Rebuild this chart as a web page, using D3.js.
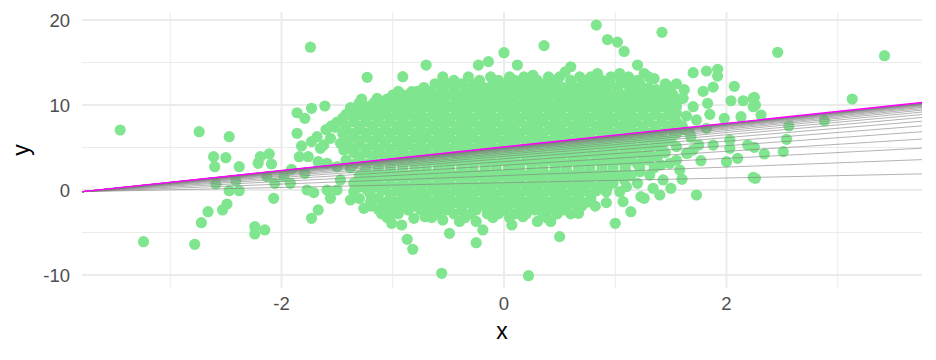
<!DOCTYPE html>
<html><head><meta charset="utf-8">
<script src="https://cdn.jsdelivr.net/npm/d3@7"></script>
<style>body{margin:0;background:#fff}svg{display:block}</style>
</head><body>
<svg id="c" width="936" height="360"></svg>
<script>
// ---------- axes ----------
const xTicks = [-2, 0, 2];
const xMinor = [-3, -1, 1, 3];
const yTicks = [-10, 0, 10, 20];
const yMinor = [-5, 5, 15];

// ---------- fitted lines (intercept, slope) ----------
const lineIntercepts = [0.854,1.695,2.370,2.912,3.344,3.689,3.965,4.185,4.359,4.503,4.617,4.704,4.780,4.837,4.882,4.920,4.951,4.973,4.992,5.007,5.019,5.030,5.038,5.042,5.049];
const lineSlopes     = [0.278,0.500,0.678,0.821,0.935,1.026,1.099,1.157,1.203,1.241,1.271,1.294,1.314,1.329,1.341,1.351,1.359,1.365,1.370,1.374,1.377,1.380,1.382,1.383,1.385];
const finalIntercept = 5.07;
const finalSlope = 1.39;

// ---------- scattered points (x, y) ----------
const scatterPts = [
[-3.45,7.06],[-3.24,-6.08],[-2.74,6.86],[-2.78,-6.39],[-2.47,6.27],[-2.61,3.92],[-2.60,2.74],[-2.50,3.80],[-2.38,2.74],[-2.59,0.71],[-2.41,1.09],[-2.47,-0.08],[-2.38,-0.08],[-2.49,-1.65],[-2.53,-2.35],[-2.66,-2.55],[-2.72,-3.85],
[-2.24,-4.31],[-2.24,-5.18],[-2.15,-4.7],
[-1.74,16.8],[-1.23,13.26],[-0.91,13.33],[-0.83,11.57],[-1.14,10.78],[-1.20,9.88],[-1.38,9.68],[-2.19,3.92],[-2.11,4.24],[-2.09,3.06],[-2.21,3.14],[-0.87,-5.8],[-0.82,-6.98],[-1.38,-1.18],[-1.26,-2.16],[-1.13,-2.27],[-1.02,-2.94],[-0.92,-4.12],[-1.01,-3.92],[-0.81,-3.33],[-1.35,-0.2],[-1.23,0],[-1.2,1.18],[-0.84,-0.79],
[-1.86,9.09],[-1.79,8.43],[-1.73,9.61],[-1.61,9.88],[-1.86,6.67],[-1.68,6.27],[-1.82,5.18],[-1.73,5.69],[-1.65,4.9],[-1.52,7.37],[-1.56,6.08],[-1.47,5.49],[-1.44,4.71],[-1.84,3.92],[-1.67,3.33],[-1.76,3.92],[-1.59,3.14],[-1.50,2.74],[-1.91,2.43],[-1.79,1.96],[-1.98,1.57],[-2.13,1.57],[-2.06,0.79],[-1.92,0.79],[-1.77,0],[-1.71,-0.31],[-1.59,0],[-1.56,-0.98],[-1.67,-2.35],[-1.73,-3.33],[-2.07,-0.98],[-1.47,1.18],[-1.50,0],
[-0.70,14.7],[-0.23,14.7],[-0.14,15.1],[0.0,16.15],[0.36,16.98],[0.12,14.7],[0.26,13.5],[0.6,14.5],[0.55,13.9],[-0.56,-9.8],[0.22,-10.08],[0.5,-5.49],[-0.25,-6.2],[-0.19,-4.7],[-0.49,-5.1],[0.07,-4.12],[0.17,-3.14],[0.67,-2.75],[-0.55,-3.53],[-0.71,-3.14],
[0.83,19.4],[1.42,18.55],[0.93,17.7],[1.02,17.4],[1.08,16.3],[1.20,14.7],[1.26,13.7],[1.35,13.1],[1.04,13.7],[1.08,12.9],[0.84,13.7],[1.70,13.8],[1.82,14.0],[1.92,14.2],[1.92,13.4],[2.07,12.2],[1.88,12.1],[1.79,11.6],[1.62,11.8],[1.46,12.0],[1.37,11.8],[2.04,10.5],[2.15,10.5],[2.24,10.8],[2.24,9.8],[1.83,10.2],[1.98,8.43],[2.13,8.62],[1.88,5.29],[2.03,5.88],[2.03,4.9],[2.0,3.33],[2.10,3.73],[2.19,5.29],[2.24,1.49],[1.77,3.45],[1.73,-0.59],[1.50,0.2],[1.60,1.26],[1.40,-0.59],[1.26,-0.98],[1.14,-2.55],[1.0,-3.92],[0.92,-1.49],[1.41,2.94],[1.65,4.31],
[1.61,10.78],[1.70,9.8],[1.64,8.7],[1.73,8.24],[1.55,9.02],[1.67,6.67],[1.55,5.1],[1.64,4.31],[1.70,4.71],[1.58,2.35],[1.49,3.14],[1.50,5.88],[1.82,7.25],[1.43,1.18],[1.34,0.2],[1.31,1.76],[1.22,2.74],[1.20,0.79],[1.10,0.39],[1.04,-0.2],[0.92,-0.2],[1.07,-1.37],[1.23,-0.79],
[2.46,16.2],[3.42,15.8],[3.13,10.7],[2.25,10.9],[2.26,10.0],[2.31,8.82],[2.88,8.15],[2.56,7.53],[2.54,5.96],[2.51,4.51],[2.34,4.24],[2.25,5.02],[2.26,1.37]
];

// ---------- dense core: y level of each row and x positions in it ----------
const coreRowY = [13.3,12.5,11.6,10.7,9.8,8.9,8.0,7.1,6.2,5.3,4.4,3.5,2.6,1.7,0.8,-0.1,-1.0,-1.9,-2.8,-3.7];
const coreRowX = [
[-0.55,-0.32,-0.12,0.05,0.18,0.4,0.5,0.68,0.78,0.96,1.12,1.3],
[-0.62,-0.5,-0.38,-0.25,-0.1,0.0,0.12,0.24,0.36,0.47,0.6,0.72,0.84,0.95,1.1,1.22,1.45,1.55],
[-0.95,-0.78,-0.66,-0.55,-0.45,-0.34,-0.24,-0.13,-0.03,0.08,0.18,0.28,0.39,0.5,0.6,0.7,0.81,0.92,1.02,1.13,1.24,1.35,1.5],
[-1.28,-1.05,-0.95,-0.85,-0.74,-0.64,-0.54,-0.43,-0.33,-0.23,-0.12,-0.02,0.08,0.19,0.29,0.39,0.5,0.6,0.7,0.81,0.91,1.01,1.12,1.22,1.33,1.45,1.58],
[-1.32,-1.22,-1.12,-1.01,-0.91,-0.8,-0.7,-0.59,-0.49,-0.38,-0.28,-0.17,-0.07,0.04,0.14,0.25,0.35,0.46,0.56,0.67,0.77,0.88,0.98,1.09,1.19,1.3,1.42,1.55],
[-1.42,-1.3,-1.18,-1.07,-0.96,-0.86,-0.75,-0.64,-0.54,-0.43,-0.33,-0.22,-0.12,-0.01,0.09,0.2,0.3,0.41,0.51,0.62,0.72,0.83,0.93,1.04,1.14,1.25,1.36,1.48,1.85],
[-1.5,-1.35,-1.24,-1.13,-1.02,-0.91,-0.8,-0.7,-0.59,-0.49,-0.38,-0.28,-0.17,-0.07,0.04,0.14,0.25,0.35,0.46,0.56,0.67,0.77,0.88,0.98,1.09,1.19,1.3,1.42,1.55],
[-1.6,-1.42,-1.3,-1.18,-1.07,-0.96,-0.86,-0.75,-0.64,-0.54,-0.43,-0.33,-0.22,-0.12,-0.01,0.09,0.2,0.3,0.41,0.51,0.62,0.72,0.83,0.93,1.04,1.14,1.25,1.36,1.5,1.62],
[-1.35,-1.24,-1.13,-1.02,-0.91,-0.8,-0.7,-0.59,-0.49,-0.38,-0.28,-0.17,-0.07,0.04,0.14,0.25,0.35,0.46,0.56,0.67,0.77,0.88,0.98,1.09,1.19,1.3,1.4,1.68],
[-1.62,-1.4,-1.3,-1.18,-1.07,-0.96,-0.86,-0.75,-0.64,-0.54,-0.43,-0.33,-0.22,-0.12,-0.01,0.09,0.2,0.3,0.41,0.51,0.62,0.72,0.83,0.93,1.04,1.14,1.25,1.36,1.75],
[-1.35,-1.24,-1.13,-1.02,-0.91,-0.8,-0.7,-0.59,-0.49,-0.38,-0.28,-0.17,-0.07,0.04,0.14,0.25,0.35,0.46,0.56,0.67,0.77,0.88,0.98,1.09,1.19,1.3,1.45],
[-1.42,-1.3,-1.18,-1.07,-0.96,-0.86,-0.75,-0.64,-0.54,-0.43,-0.33,-0.22,-0.12,-0.01,0.09,0.2,0.3,0.41,0.51,0.62,0.72,0.83,0.93,1.04,1.14,1.3,1.55],
[-1.38,-1.24,-1.13,-1.02,-0.91,-0.8,-0.7,-0.59,-0.49,-0.38,-0.28,-0.17,-0.07,0.04,0.14,0.25,0.35,0.46,0.56,0.67,0.77,0.88,0.98,1.09,1.35],
[-1.3,-1.18,-1.07,-0.96,-0.86,-0.75,-0.64,-0.54,-0.43,-0.33,-0.22,-0.12,-0.01,0.09,0.2,0.3,0.41,0.51,0.62,0.72,0.83,0.93,1.04,1.14],
[-1.35,-1.24,-1.13,-1.02,-0.91,-0.8,-0.7,-0.59,-0.49,-0.38,-0.28,-0.17,-0.07,0.04,0.14,0.25,0.35,0.46,0.56,0.67,0.77,0.88,0.98],
[-1.1,-0.96,-0.86,-0.75,-0.64,-0.54,-0.43,-0.33,-0.22,-0.12,-0.01,0.09,0.2,0.3,0.41,0.51,0.62,0.72,0.83],
[-1.3,-1.13,-1.02,-0.91,-0.8,-0.7,-0.59,-0.49,-0.38,-0.28,-0.17,-0.07,0.04,0.14,0.25,0.35,0.46,0.56,0.67,0.78],
[-1.2,-1.05,-0.91,-0.8,-0.7,-0.59,-0.49,-0.38,-0.28,-0.17,-0.07,0.04,0.14,0.25,0.35,0.46,0.56,0.7,0.82],
[-1.1,-0.95,-0.7,-0.6,-0.45,-0.3,-0.15,-0.05,0.1,0.2,0.35,0.48,0.6],
[-0.4,-0.25,0.3,0.42]
];
// in-between rows of the core
const coreRowY2 = [12.9,12.05,11.15,10.25,9.35,8.45,7.55,6.65,5.75,4.85,3.95,3.05,2.15,1.25,0.35,-0.55,-1.45,-2.35,-3.25];
const coreRowX2 = [
[-0.45,-0.22,-0.05,0.1,0.3,0.45,0.6,0.73,0.88,1.05,1.2],
[-0.72,-0.56,-0.44,-0.31,-0.18,-0.05,0.06,0.18,0.3,0.42,0.53,0.66,0.78,0.9,1.02,1.16,1.3,1.5],
[-1.0,-0.9,-0.8,-0.69,-0.59,-0.49,-0.38,-0.28,-0.17,-0.07,0.03,0.13,0.24,0.34,0.44,0.55,0.65,0.76,0.86,0.96,1.07,1.18,1.29,1.4,1.52],
[-1.3,-1.17,-1.06,-0.96,-0.85,-0.75,-0.64,-0.54,-0.43,-0.33,-0.22,-0.12,-0.02,0.09,0.19,0.3,0.4,0.51,0.61,0.72,0.82,0.93,1.03,1.14,1.24,1.36,1.5],
[-1.37,-1.26,-1.16,-1.06,-0.96,-0.85,-0.75,-0.64,-0.54,-0.43,-0.33,-0.22,-0.12,-0.01,0.09,0.2,0.3,0.41,0.51,0.62,0.72,0.83,0.93,1.04,1.14,1.25,1.36,1.5],
[-1.45,-1.35,-1.24,-1.13,-1.02,-0.91,-0.8,-0.7,-0.59,-0.49,-0.38,-0.28,-0.17,-0.07,0.04,0.14,0.25,0.35,0.46,0.56,0.67,0.77,0.88,0.98,1.09,1.19,1.3,1.42,1.53],
[-1.55,-1.42,-1.3,-1.18,-1.07,-0.96,-0.86,-0.75,-0.64,-0.54,-0.43,-0.33,-0.22,-0.12,-0.01,0.09,0.2,0.3,0.41,0.51,0.62,0.72,0.83,0.93,1.04,1.14,1.25,1.36,1.47,1.6],
[-1.45,-1.35,-1.24,-1.13,-1.02,-0.91,-0.8,-0.7,-0.59,-0.49,-0.38,-0.28,-0.17,-0.07,0.04,0.14,0.25,0.35,0.46,0.56,0.67,0.77,0.88,0.98,1.09,1.19,1.3,1.42,1.55],
[-1.4,-1.3,-1.18,-1.07,-0.96,-0.86,-0.75,-0.64,-0.54,-0.43,-0.33,-0.22,-0.12,-0.01,0.09,0.2,0.3,0.41,0.51,0.62,0.72,0.83,0.93,1.04,1.14,1.25,1.36,1.45],
[-1.38,-1.24,-1.13,-1.02,-0.91,-0.8,-0.7,-0.59,-0.49,-0.38,-0.28,-0.17,-0.07,0.04,0.14,0.25,0.35,0.46,0.56,0.67,0.77,0.88,0.98,1.09,1.19,1.3,1.42],
[-1.3,-1.18,-1.07,-0.96,-0.86,-0.75,-0.64,-0.54,-0.43,-0.33,-0.22,-0.12,-0.01,0.09,0.2,0.3,0.41,0.51,0.62,0.72,0.83,0.93,1.04,1.14,1.25,1.38],
[-1.35,-1.24,-1.13,-1.02,-0.91,-0.8,-0.7,-0.59,-0.49,-0.38,-0.28,-0.17,-0.07,0.04,0.14,0.25,0.35,0.46,0.56,0.67,0.77,0.88,0.98,1.09,1.2],
[-1.25,-1.13,-1.02,-0.91,-0.8,-0.7,-0.59,-0.49,-0.38,-0.28,-0.17,-0.07,0.04,0.14,0.25,0.35,0.46,0.56,0.67,0.77,0.88,0.98,1.09,1.22],
[-1.28,-1.13,-1.02,-0.91,-0.8,-0.7,-0.59,-0.49,-0.38,-0.28,-0.17,-0.07,0.04,0.14,0.25,0.35,0.46,0.56,0.67,0.77,0.88,0.98,1.08],
[-1.3,-1.18,-1.07,-0.96,-0.86,-0.75,-0.64,-0.54,-0.43,-0.33,-0.22,-0.12,-0.01,0.09,0.2,0.3,0.41,0.51,0.62,0.72,0.83,0.93],
[-1.2,-1.02,-0.91,-0.8,-0.7,-0.59,-0.49,-0.38,-0.28,-0.17,-0.07,0.04,0.14,0.25,0.35,0.46,0.56,0.67,0.78],
[-1.2,-1.07,-0.96,-0.86,-0.75,-0.64,-0.54,-0.43,-0.33,-0.22,-0.12,-0.01,0.09,0.2,0.3,0.41,0.51,0.62,0.74],
[-1.12,-0.98,-0.86,-0.75,-0.64,-0.52,-0.38,-0.25,-0.12,0.0,0.15,0.28,0.42,0.55,0.66],
[-1.05,-0.65,-0.35,-0.1,0.05,0.38]
];

// ---------- build ----------
const pts = scatterPts.map(d => ({x: d[0], y: d[1]}));
coreRowY.forEach((yy, i) => coreRowX[i].forEach(xx => pts.push({x: xx, y: yy})));
coreRowY2.forEach((yy, i) => coreRowX2[i].forEach(xx => pts.push({x: xx, y: yy})));

const svg = d3.select('#c');
const P = {l: 82, r: 922, t: 12, b: 288};
const x = d3.scaleLinear().domain([-3.793, 3.757]).range([P.l, P.r]);
const y = d3.scaleLinear().domain([-11.53, 20.94]).range([P.b, P.t]);

svg.append('defs').append('clipPath').attr('id', 'clip')
  .append('rect').attr('x', P.l).attr('y', P.t).attr('width', P.r - P.l).attr('height', P.b - P.t);

const grid = svg.append('g');
grid.selectAll('.ym').data(yMinor).join('line')
  .attr('x1', P.l).attr('x2', P.r).attr('y1', d => y(d)).attr('y2', d => y(d))
  .attr('stroke', '#EBEBEB').attr('stroke-width', 1);
grid.selectAll('.xm').data(xMinor).join('line')
  .attr('y1', P.t).attr('y2', P.b).attr('x1', d => x(d)).attr('x2', d => x(d))
  .attr('stroke', '#EBEBEB').attr('stroke-width', 1);
grid.selectAll('.yM').data(yTicks).join('line')
  .attr('x1', P.l).attr('x2', P.r).attr('y1', d => y(d)).attr('y2', d => y(d))
  .attr('stroke', '#EBEBEB').attr('stroke-width', 2);
grid.selectAll('.xM').data(xTicks).join('line')
  .attr('y1', P.t).attr('y2', P.b).attr('x1', d => x(d)).attr('x2', d => x(d))
  .attr('stroke', '#EBEBEB').attr('stroke-width', 2);

svg.append('g').attr('clip-path', 'url(#clip)')
  .selectAll('circle').data(pts).join('circle')
  .attr('cx', d => x(d.x)).attr('cy', d => y(d.y)).attr('r', 5.6)
  .attr('fill', '#80E58F');

const [x0, x1] = x.domain();
const lg = svg.append('g').attr('clip-path', 'url(#clip)');
lg.selectAll('line.g').data(lineSlopes.map((s, i) => ({a: lineIntercepts[i], b: s}))).join('line')
  .attr('x1', x(x0)).attr('x2', x(x1))
  .attr('y1', d => y(d.a + d.b * x0)).attr('y2', d => y(d.a + d.b * x1))
  .attr('stroke', '#808080').attr('stroke-width', 0.6);
lg.append('line')
  .attr('x1', x(x0)).attr('x2', x(x1))
  .attr('y1', y(finalIntercept + finalSlope * x0)).attr('y2', y(finalIntercept + finalSlope * x1))
  .attr('stroke', '#FF00FF').attr('stroke-width', 1.3);

const font = '"Liberation Sans", Arial, Helvetica, sans-serif';
svg.append('g').selectAll('text').data(xTicks).join('text')
  .attr('x', d => x(d)).attr('y', 310).attr('text-anchor', 'middle')
  .attr('font-family', font).attr('font-size', 18.5).attr('fill', '#4D4D4D')
  .text(d => d);
svg.append('g').selectAll('text').data(yTicks).join('text')
  .attr('x', 70).attr('y', d => y(d) + 7).attr('text-anchor', 'end')
  .attr('font-family', font).attr('font-size', 18.5).attr('fill', '#4D4D4D')
  .text(d => d);
svg.append('text').attr('x', (P.l + P.r) / 2).attr('y', 339).attr('text-anchor', 'middle')
  .attr('font-family', font).attr('font-size', 23).attr('fill', '#000').text('x');
svg.append('text').attr('transform', `translate(29,${(P.t + P.b) / 2}) rotate(-90)`).attr('text-anchor', 'middle')
  .attr('font-family', font).attr('font-size', 23).attr('fill', '#000').text('y');
</script>
</body></html>
